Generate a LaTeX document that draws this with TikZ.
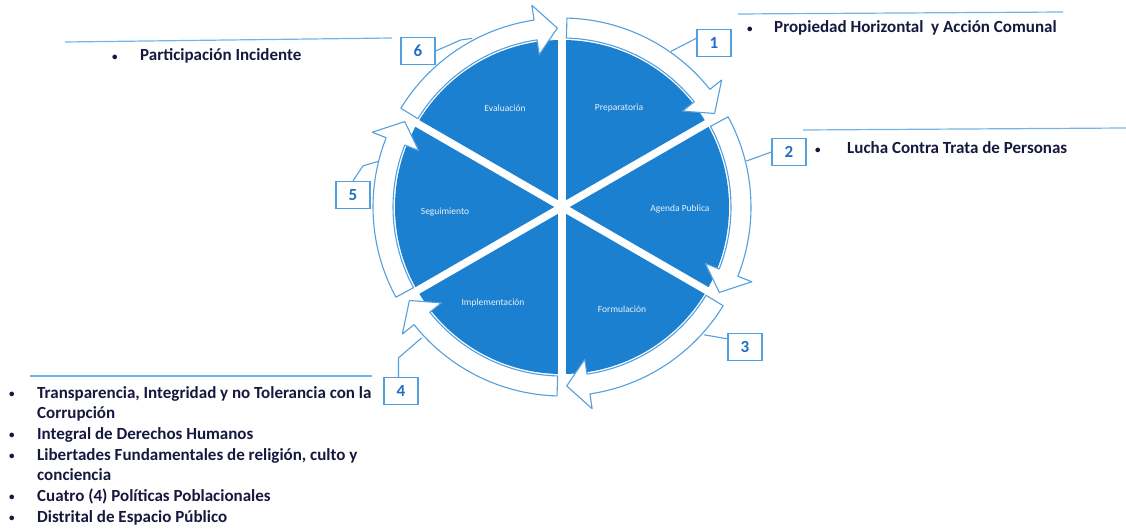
\documentclass[tikz,border=0pt]{standalone}
\usepackage{fontspec}
\setmainfont{Carlito}
\usetikzlibrary{calc}

\definecolor{pieblue}{RGB}{28,128,208}
\definecolor{ringblue}{RGB}{84,160,222}
\definecolor{digitblue}{RGB}{30,112,196}
\definecolor{textnavy}{RGB}{22,24,62}

\tikzset{
  ringarrow/.style={fill=white, draw=ringblue, line width=1.1pt, line join=round},
  numbox/.style={draw=ringblue, line width=1.3pt, minimum width=34pt, minimum height=27pt,
    inner sep=0pt, text=digitblue, font=\fontsize{17}{17}\selectfont\bfseries},
  link/.style={draw=ringblue, line width=1.1pt},
  sepline/.style={draw=ringblue!80, line width=1.2pt},
  phase/.style={text=white!90!pieblue, font=\fontsize{9.5}{10}\selectfont, inner sep=0pt},
  itemtext/.style={text=textnavy, font=\fontsize{17}{20}\selectfont\bfseries, inner sep=0pt, anchor=base west},
}

% one arrow of the ring, from angle #1 clockwise to its tip at #2
\newcommand{\wheelarrow}[2]{%
  \filldraw[ringarrow] (#1:189) arc (#1:#2+7:189) -- (#2+7:204) -- (#2:179)
    -- (#2+7:154) -- (#2+7:169) arc (#2+7:#1:169) -- cycle;}
\newcommand{\dotmark}{\raisebox{0.12ex}{\fontsize{11}{11}\selectfont\textbullet}}
\newcommand{\itembullet}{\makebox[28pt][l]{\dotmark}}
\newcommand{\itemgap}{\hspace*{28pt}}

\begin{document}
\begin{tikzpicture}[x=1pt,y=1pt]
\useasboundingbox (0,0) rectangle (1126,531);

\begin{scope}[shift={(562,324)}]

\fill[pieblue] (0,0) circle (167);
\foreach \a in {90,30,150}
  \draw[white, line width=7.5pt] (\a:171) -- (\a+180:171);

\foreach \s/\t in {88.5/31.5, 28.5/-28.5, -31.5/-88.5, -91.5/-148.5, -151.5/-208.5, 148.5/91.5}
  \wheelarrow{\s}{\t};

 \node[phase] (prep) at (57,99) {Preparatoria};
 \node[phase] (agenda) at (118,-2) {Agenda Publica};
 \node[phase] (form) at (60,-102) {Formulación};
 \node[phase] (impl) at (-69,-96) {Implementación};
 \node[phase] (seg) at (-117,-5) {Seguimiento};
 \node[phase] (eval) at (-57,99) {Evaluación};

\coordinate (r1) at (55:190);
\coordinate (r2) at (14:190);
\coordinate (r3) at (-42:191);
\coordinate (r4) at (-137:192);
\coordinate (r5) at (166:189);
\coordinate (r6) at (118:191);

\end{scope}

 \node[numbox] (b1) at (714,488) {1};
 \node[numbox] (b2) at (789,379) {2};
 \node[numbox] (b3) at (745,184) {3};
 \node[numbox] (b4) at (401,140) {4};
 \node[numbox] (b5) at (353,336) {5};
 \node[numbox] (b6) at (418,480) {6};

\draw[link] (b1.165) -- (r1);
\draw[link] (b2.west) -- (r2);
\draw[link] (b3.155) -- (r3);
\draw[link] (b4.100) -- ++(0,19) -- (r4);
\draw[link] (b5.north) -- ++(10,15) -- (r5);
\draw[link] (b6.east) -- ++(25,11) -- (r6);

\draw[sepline] (65,489) -- (392,493);
\draw[sepline] (738,517) -- (1063,519);
\draw[sepline] (803,401) -- (1126,403);
\draw[sepline] (30,155) -- (372,155);

 \node[itemtext] (part) at (112,470) {\itembullet Participación Incidente};
 \node[itemtext] (prop) at (747,498) {\makebox[27pt][l]{\dotmark}Propiedad Horizontal\ \ y Acción Comunal};
 \node[itemtext] (trata) at (815,377) {\makebox[32pt][l]{\dotmark}Lucha Contra Trata de Personas};

\foreach \y/\t [count=\i] in {133/{\itembullet Transparencia, Integridad y no Tolerancia con la},
    112.3/{\itemgap Corrupción}, 91.6/{\itembullet Integral de Derechos Humanos},
    70.9/{\itembullet Libertades Fundamentales de religión, culto y}, 50.2/{\itemgap conciencia},
    29.5/{\itembullet Cuatro (4) Políticas Poblacionales}, 8.8/{\itembullet Distrital de Espacio Público}}
  \node[itemtext] (l\i) at (9,\y) {\t};

\end{tikzpicture}
\end{document}
